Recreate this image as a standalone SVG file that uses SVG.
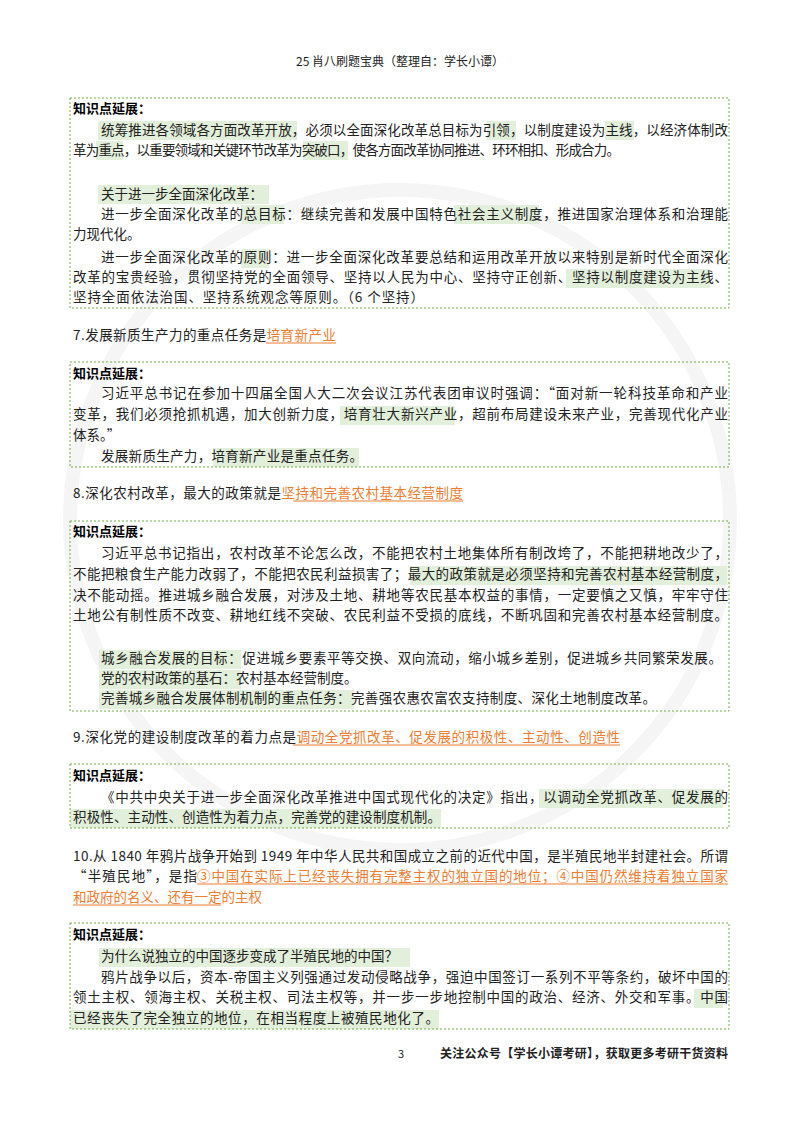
<svg xmlns="http://www.w3.org/2000/svg" width="800" height="1132" viewBox="0 0 800 1132">
<style>
text{font-family:"Noto Sans CJK SC","Liberation Serif",serif;font-size:13.5px;fill:#222}
.t{font-weight:bold;font-size:13px;fill:#000}
.o{fill:#ed7d31}
.box{fill:none;stroke:#70ad47;stroke-width:1;stroke-dasharray:2,2}
.hl{fill:#e2efda}
.ul{stroke:#ed7d31;stroke-width:1}
</style>
<rect width="800" height="1132" fill="#fff"/>
<g id="watermark" fill="none" stroke="#f5f5f5" stroke-width="14">
<circle cx="400" cy="520" r="330"/>
</g>
<text x="400" y="66" text-anchor="middle" style="font-size:12px">25 肖八刷题宝典（整理自：学长小谭）</text>
<g id="highlights">
<rect class="hl" x="98" y="121" width="199" height="19"/>
<rect class="hl" x="487" y="121" width="29" height="19"/>
<rect class="hl" x="605" y="121" width="29" height="19"/>
<rect class="hl" x="96" y="141" width="27" height="19"/>
<rect class="hl" x="303" y="141" width="45" height="19"/>
<rect class="hl" x="98" y="185" width="171" height="19"/>
<rect class="hl" x="241" y="205" width="43" height="19"/>
<rect class="hl" x="454" y="205" width="85" height="19"/>
<rect class="hl" x="241" y="249" width="28" height="19"/>
<rect class="hl" x="566" y="269" width="144" height="19"/>
<rect class="hl" x="340" y="406" width="115" height="19"/>
<rect class="hl" x="213" y="448" width="146" height="19"/>
<rect class="hl" x="410" y="566" width="317" height="19"/>
<rect class="hl" x="99" y="650" width="142" height="19"/>
<rect class="hl" x="99" y="670" width="142" height="19"/>
<rect class="hl" x="99" y="690" width="255" height="19"/>
<rect class="hl" x="539" y="789" width="184" height="19"/>
<rect class="hl" x="70" y="809" width="371" height="19"/>
<rect class="hl" x="99" y="948" width="311" height="19"/>
<rect class="hl" x="694" y="989" width="29" height="19"/>
<rect class="hl" x="70" y="1010" width="369" height="19"/>
</g>
<g id="box1">
<rect class="box" x="70" y="98" width="659" height="210"/>
<text class="t" x="73" y="113">知识点延展：</text>
<text x="101" y="135" textLength="627" lengthAdjust="spacing">统筹推进各领域各方面改革开放，必须以全面深化改革总目标为引领，以制度建设为主线，以经济体制改</text>
<text x="73" y="155" textLength="547" lengthAdjust="spacing">革为重点，以重要领域和关键环节改革为突破口，使各方面改革协同推进、环环相扣、形成合力。</text>
<text x="101" y="199">关于进一步全面深化改革：</text>
<text x="101" y="219" textLength="627" lengthAdjust="spacing">进一步全面深化改革的总目标：继续完善和发展中国特色社会主义制度，推进国家治理体系和治理能</text>
<text x="73" y="239">力现代化。</text>
<text x="101" y="262" textLength="627" lengthAdjust="spacing">进一步全面深化改革的原则：进一步全面深化改革要总结和运用改革开放以来特别是新时代全面深化</text>
<text x="73" y="282" textLength="655" lengthAdjust="spacing">改革的宝贵经验，贯彻坚持党的全面领导、坚持以人民为中心、坚持守正创新、坚持以制度建设为主线、</text>
<text x="73" y="302" textLength="351" lengthAdjust="spacing">坚持全面依法治国、坚持系统观念等原则。（6 个坚持）</text>
</g>
<g id="q7">
<text x="73" y="340" textLength="263" lengthAdjust="spacing">7.发展新质生产力的重点任务是<tspan class="o">培育新产业</tspan></text>
<line class="ul" x1="266" y1="343" x2="336" y2="343"/>
</g>
<g id="box2">
<rect class="box" x="70" y="362" width="659" height="105"/>
<text class="t" x="73" y="378">知识点延展：</text>
<text x="101" y="398" textLength="627" lengthAdjust="spacing">习近平总书记在参加十四届全国人大二次会议江苏代表团审议时强调：“面对新一轮科技革命和产业</text>
<text x="73" y="419" textLength="655" lengthAdjust="spacing">变革，我们必须抢抓机遇，加大创新力度，培育壮大新兴产业，超前布局建设未来产业，完善现代化产业</text>
<text x="73" y="440">体系。”</text>
<text x="101" y="461" textLength="262" lengthAdjust="spacing">发展新质生产力，培育新产业是重点任务。</text>
</g>
<g id="q8">
<text x="73" y="498" textLength="390" lengthAdjust="spacing">8.深化农村改革，最大的政策就是<tspan class="o">坚持和完善农村基本经营制度</tspan></text>
<line class="ul" x1="293" y1="501" x2="463" y2="501"/>
</g>
<g id="box3">
<rect class="box" x="70" y="521" width="659" height="190"/>
<text class="t" x="73" y="536">知识点延展：</text>
<text x="101" y="558" textLength="627" lengthAdjust="spacing">习近平总书记指出，农村改革不论怎么改，不能把农村土地集体所有制改垮了，不能把耕地改少了，</text>
<text x="73" y="579" textLength="655" lengthAdjust="spacing">不能把粮食生产能力改弱了，不能把农民利益损害了；最大的政策就是必须坚持和完善农村基本经营制度，</text>
<text x="73" y="600" textLength="655" lengthAdjust="spacing">决不能动摇。推进城乡融合发展，对涉及土地、耕地等农民基本权益的事情，一定要慎之又慎，牢牢守住</text>
<text x="73" y="620" textLength="655" lengthAdjust="spacing">土地公有制性质不改变、耕地红线不突破、农民利益不受损的底线，不断巩固和完善农村基本经营制度。</text>
<text x="101" y="663" textLength="621" lengthAdjust="spacing">城乡融合发展的目标：促进城乡要素平等交换、双向流动，缩小城乡差别，促进城乡共同繁荣发展。</text>
<text x="101" y="683">党的农村政策的基石：农村基本经营制度。</text>
<text x="101" y="703" textLength="555" lengthAdjust="spacing">完善城乡融合发展体制机制的重点任务：完善强农惠农富农支持制度、深化土地制度改革。</text>
</g>
<g id="q9">
<text x="73" y="742" textLength="547" lengthAdjust="spacing">9.深化党的建设制度改革的着力点是<tspan class="o">调动全党抓改革、促发展的积极性、主动性、创造性</tspan></text>
<line class="ul" x1="293" y1="745" x2="620" y2="745"/>
</g>
<g id="box4">
<rect class="box" x="70" y="764" width="659" height="64"/>
<text class="t" x="73" y="780">知识点延展：</text>
<text x="101" y="802" textLength="627" lengthAdjust="spacing">《中共中央关于进一步全面深化改革推进中国式现代化的决定》指出，以调动全党抓改革、促发展的</text>
<text x="73" y="822" textLength="368" lengthAdjust="spacing">积极性、主动性、创造性为着力点，完善党的建设制度机制。</text>
</g>
<g id="q10">
<text x="73" y="861" textLength="655" lengthAdjust="spacing">10.从 1840 年鸦片战争开始到 1949 年中华人民共和国成立之前的近代中国，是半殖民地半封建社会。所谓</text>
<text x="73" y="881" textLength="124" lengthAdjust="spacing">“半殖民地”，是指</text>
<text class="o" x="197" y="881" textLength="531" lengthAdjust="spacing">③中国在实际上已经丧失拥有完整主权的独立国的地位；④中国仍然维持着独立国家</text>
<text class="o" x="73" y="902">和政府的名义、还有一定的主权</text>
<line class="ul" x1="197" y1="884" x2="728" y2="884"/>
<line class="ul" x1="73" y1="905" x2="221" y2="905"/>
</g>
<g id="box5">
<rect class="box" x="70" y="923" width="659" height="106"/>
<text class="t" x="73" y="939">知识点延展：</text>
<text x="101" y="961">为什么说独立的中国逐步变成了半殖民地的中国？</text>
<text x="101" y="982" textLength="627" lengthAdjust="spacing">鸦片战争以后，资本-帝国主义列强通过发动侵略战争，强迫中国签订一系列不平等条约，破坏中国的</text>
<text x="73" y="1002" textLength="655" lengthAdjust="spacing">领土主权、领海主权、关税主权、司法主权等，并一步一步地控制中国的政治、经济、外交和军事。中国</text>
<text x="73" y="1023" textLength="366" lengthAdjust="spacing">已经丧失了完全独立的地位，在相当程度上被殖民地化了。</text>
</g>
<g id="footer">
<text x="398" y="1058" style="font-size:11px">3</text>
<text x="440" y="1058" textLength="288" lengthAdjust="spacing" style="font-size:12px;font-weight:bold">关注公众号【学长小谭考研】，获取更多考研干货资料</text>
</g>
</svg>
